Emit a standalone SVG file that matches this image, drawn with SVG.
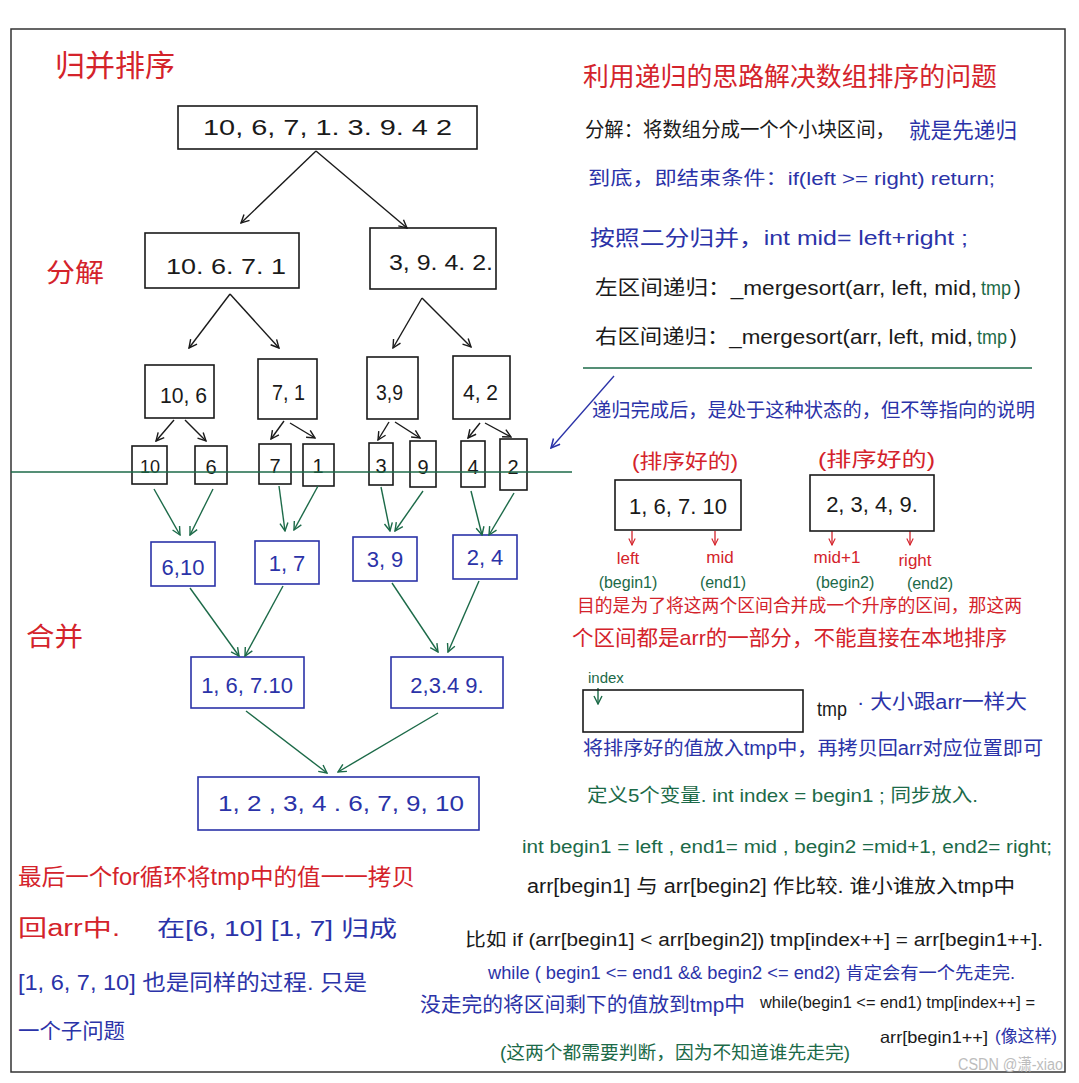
<svg xmlns="http://www.w3.org/2000/svg" width="1079" height="1083" viewBox="0 0 1079 1083">
<defs>
<style>
text{font-family:"Liberation Sans","Noto Sans CJK SC",sans-serif;}
.r{fill:#d4232b}.b{fill:#2b33a8}.g{fill:#1c6a48}.k{fill:#1a1a1a}
.num{font-size:22px}
.bx{fill:none;stroke:#1a1a1a;stroke-width:1.6}
.bb{fill:none;stroke:#2b33a8;stroke-width:1.6}
.ck{stroke:#1a1a1a;stroke-width:1.4;fill:none;marker-end:url(#ak)}
.cg{stroke:#1c6a48;stroke-width:1.4;fill:none;marker-end:url(#ag)}
.cb{stroke:#2b33a8;stroke-width:1.4;fill:none;marker-end:url(#ab)}
.cr{stroke:#d4232b;stroke-width:1.3;fill:none;marker-end:url(#ar)}
</style>
<marker id="ak" viewBox="0 0 10 10" refX="9" refY="5" markerWidth="10" markerHeight="10" markerUnits="userSpaceOnUse" orient="auto"><path d="M1,1 L9,5 L1,9" fill="none" stroke="#1a1a1a" stroke-width="1.4"/></marker>
<marker id="ag" viewBox="0 0 10 10" refX="9" refY="5" markerWidth="10" markerHeight="10" markerUnits="userSpaceOnUse" orient="auto"><path d="M1,1 L9,5 L1,9" fill="none" stroke="#1c6a48" stroke-width="1.4"/></marker>
<marker id="ab" viewBox="0 0 10 10" refX="9" refY="5" markerWidth="11" markerHeight="11" markerUnits="userSpaceOnUse" orient="auto"><path d="M1,1 L9,5 L1,9" fill="none" stroke="#2b33a8" stroke-width="1.4"/></marker>
<marker id="ar" viewBox="0 0 10 10" refX="9" refY="5" markerWidth="8" markerHeight="8" markerUnits="userSpaceOnUse" orient="auto"><path d="M1,1 L9,5 L1,9" fill="none" stroke="#d4232b" stroke-width="1.4"/></marker>
</defs>
<rect width="1079" height="1083" fill="#ffffff"/>
<rect x="11" y="29" width="1054" height="1043" fill="none" stroke="#333" stroke-width="1.5"/>

<g id="labels">
<text class="r" x="55" y="76" font-size="30" textLength="120" lengthAdjust="spacingAndGlyphs">归并排序</text>
<text class="r" x="46" y="282" font-size="26" textLength="58" lengthAdjust="spacingAndGlyphs">分解</text>
<text class="r" x="26" y="646" font-size="26" textLength="57" lengthAdjust="spacingAndGlyphs">合并</text>
</g>

<g id="n-root"><rect class="bx" x="178" y="106" width="299" height="43"/><text class="k num" x="203" y="135" textLength="249" lengthAdjust="spacingAndGlyphs">10, 6, 7, 1. 3. 9. 4   2</text></g>
<g id="n-l"><rect class="bx" x="145" y="233" width="154" height="55"/><text class="k num" x="166" y="274" textLength="120" lengthAdjust="spacingAndGlyphs">10. 6. 7. 1</text></g>
<g id="n-r"><rect class="bx" x="370" y="228" width="126" height="61"/><text class="k num" x="389" y="270" textLength="104" lengthAdjust="spacingAndGlyphs">3, 9. 4. 2.</text></g>
<g id="n-106"><rect class="bx" x="145" y="365" width="69" height="53"/><text class="k num" x="160" y="403" textLength="47" lengthAdjust="spacingAndGlyphs">10, 6</text></g>
<g id="n-71"><rect class="bx" x="258" y="359" width="59" height="60"/><text class="k num" x="272" y="400" textLength="33" lengthAdjust="spacingAndGlyphs">7, 1</text></g>
<g id="n-39"><rect class="bx" x="367" y="357" width="51" height="62"/><text class="k num" x="376" y="400" textLength="27" lengthAdjust="spacingAndGlyphs">3,9</text></g>
<g id="n-42"><rect class="bx" x="453" y="356" width="57" height="63"/><text class="k num" x="463" y="400" textLength="35" lengthAdjust="spacingAndGlyphs">4, 2</text></g>
<g id="n-10"><rect class="bx" x="132" y="446" width="35" height="38"/><text class="k" font-size="18" x="150" y="473" text-anchor="middle">10</text></g>
<g id="n-6"><rect class="bx" x="195" y="446" width="32" height="38"/><text class="k" font-size="20" x="211" y="474" text-anchor="middle">6</text></g>
<g id="n-7"><rect class="bx" x="259" y="444" width="32" height="40"/><text class="k" font-size="20" x="275" y="473" text-anchor="middle">7</text></g>
<g id="n-1"><rect class="bx" x="303" y="444" width="31" height="42"/><text class="k" font-size="20" x="318" y="473" text-anchor="middle">1</text></g>
<g id="n-3"><rect class="bx" x="369" y="443" width="24" height="42"/><text class="k" font-size="20" x="381" y="473" text-anchor="middle">3</text></g>
<g id="n-9"><rect class="bx" x="410" y="441" width="26" height="46"/><text class="k" font-size="20" x="423" y="474" text-anchor="middle">9</text></g>
<g id="n-4"><rect class="bx" x="461" y="441" width="24" height="46"/><text class="k" font-size="20" x="473" y="474" text-anchor="middle">4</text></g>
<g id="n-2"><rect class="bx" x="500" y="439" width="27" height="51"/><text class="k" font-size="20" x="513" y="474" text-anchor="middle">2</text></g>
<g id="m-610"><rect class="bb" x="151" y="542" width="64" height="44"/><text class="b num" x="183" y="575" text-anchor="middle">6,10</text></g>
<g id="m-17"><rect class="bb" x="255" y="541" width="64" height="43"/><text class="b num" x="287" y="571" text-anchor="middle">1, 7</text></g>
<g id="m-39"><rect class="bb" x="353" y="537" width="64" height="44"/><text class="b num" x="385" y="567" text-anchor="middle">3, 9</text></g>
<g id="m-24"><rect class="bb" x="453" y="535" width="64" height="44"/><text class="b num" x="485" y="565" text-anchor="middle">2, 4</text></g>
<g id="m-1to10"><rect class="bb" x="191" y="657" width="113" height="51"/><text class="b num" x="247" y="693" text-anchor="middle">1, 6, 7.10</text></g>
<g id="m-2to9"><rect class="bb" x="391" y="657" width="112" height="51"/><text class="b num" x="447" y="693" text-anchor="middle">2,3.4 9.</text></g>
<g id="m-all"><rect class="bb" x="198" y="777" width="281" height="53"/><text class="b num" x="218" y="811" textLength="246" lengthAdjust="spacingAndGlyphs">1, 2 , 3, 4 . 6, 7, 9, 10</text></g>

<g id="connectors">
<line class="ck" x1="316" y1="151" x2="241" y2="223"/>
<line class="ck" x1="316" y1="151" x2="407" y2="228"/>
<line class="ck" x1="230" y1="294" x2="189" y2="348"/>
<line class="ck" x1="230" y1="294" x2="279" y2="348"/>
<line class="ck" x1="422" y1="298" x2="393" y2="348"/>
<line class="ck" x1="422" y1="298" x2="471" y2="347"/>
<line class="ck" x1="174" y1="420" x2="156" y2="441"/>
<line class="ck" x1="185" y1="420" x2="206" y2="441"/>
<line class="ck" x1="284" y1="421" x2="271" y2="439"/>
<line class="ck" x1="290" y1="423" x2="315" y2="438"/>
<line class="ck" x1="389" y1="422" x2="378" y2="440"/>
<line class="ck" x1="395" y1="422" x2="420" y2="438"/>
<line class="ck" x1="480" y1="423" x2="468" y2="438"/>
<line class="ck" x1="485" y1="423" x2="511" y2="437"/>
<line x1="11" y1="472" x2="572" y2="472" stroke="#1c6a48" stroke-width="1.6"/>
<line x1="583" y1="368" x2="1032" y2="368" stroke="#1c6a48" stroke-width="1.6"/>
<line class="cg" x1="154" y1="489" x2="180" y2="535"/>
<line class="cg" x1="213" y1="489" x2="190" y2="535"/>
<line class="cg" x1="279" y1="486" x2="285" y2="531"/>
<line class="cg" x1="318" y1="486" x2="294" y2="530"/>
<line class="cg" x1="381" y1="487" x2="390" y2="531"/>
<line class="cg" x1="423" y1="491" x2="395" y2="531"/>
<line class="cg" x1="471" y1="491" x2="482" y2="535"/>
<line class="cg" x1="514" y1="493" x2="489" y2="535"/>
<line class="cg" x1="190" y1="588" x2="239" y2="656"/>
<line class="cg" x1="283" y1="586" x2="245" y2="656"/>
<line class="cg" x1="392" y1="583" x2="438" y2="652"/>
<line class="cg" x1="479" y1="581" x2="448" y2="652"/>
<line class="cg" x1="246" y1="711" x2="327" y2="773"/>
<line class="cg" x1="438" y1="713" x2="338" y2="772"/>
<line class="cb" x1="614" y1="376" x2="551" y2="448"/>
<line class="cr" x1="632" y1="531" x2="632" y2="545"/>
<line class="cr" x1="715" y1="531" x2="715" y2="545"/>
<line class="cr" x1="832" y1="531" x2="832" y2="545"/>
<line class="cr" x1="910" y1="531" x2="910" y2="545"/>
<line class="cg" x1="598" y1="688" x2="598" y2="704"/>
</g>

<g id="notes">
<text class="r" font-size="26" x="583" y="86" textLength="414" lengthAdjust="spacingAndGlyphs">利用递归的思路解决数组排序的问题</text>
<text class="k" font-size="20" x="585" y="137" textLength="310" lengthAdjust="spacingAndGlyphs">分解：将数组分成一个个小块区间，</text>
<text class="b" font-size="22" x="909" y="138" textLength="108" lengthAdjust="spacingAndGlyphs">就是先递归</text>
<text class="b" font-size="19" x="588" y="185" textLength="407" lengthAdjust="spacingAndGlyphs">到底，即结束条件：if(left &gt;= right) return;</text>
<text class="b" font-size="21" x="590" y="245" textLength="378" lengthAdjust="spacingAndGlyphs">按照二分归并，int mid= left+right ;</text>
<text class="k" font-size="20" x="595" y="295" textLength="382" lengthAdjust="spacingAndGlyphs">左区间递归：_mergesort(arr, left, mid,</text>
<text class="g" font-size="20" x="981" y="295" textLength="30" lengthAdjust="spacingAndGlyphs">tmp</text>
<text class="k" font-size="20" x="1014" y="295">)</text>
<text class="k" font-size="20" x="595" y="344" textLength="378" lengthAdjust="spacingAndGlyphs">右区间递归：_mergesort(arr, left, mid,</text>
<text class="g" font-size="20" x="977" y="344" textLength="30" lengthAdjust="spacingAndGlyphs">tmp</text>
<text class="k" font-size="20" x="1010" y="344">)</text>
<text class="b" font-size="19.5" x="592" y="417" textLength="443" lengthAdjust="spacingAndGlyphs">递归完成后，是处于这种状态的，但不等指向的说明</text>
<text class="r" font-size="20" x="632" y="469" textLength="106" lengthAdjust="spacingAndGlyphs">(排序好的)</text>
<text class="r" font-size="20" x="818" y="467" textLength="117" lengthAdjust="spacingAndGlyphs">(排序好的)</text>
</g>

<g id="s-left"><rect class="bx" x="615" y="480" width="126" height="50"/><text class="k num" x="678" y="514" text-anchor="middle">1, 6, 7. 10</text></g>
<g id="s-right"><rect class="bx" x="810" y="475" width="124" height="56"/><text class="k num" x="872" y="512" text-anchor="middle">2, 3, 4, 9.</text></g>

<g id="pointers">
<text class="r" font-size="17" x="628" y="564" text-anchor="middle">left</text>
<text class="r" font-size="17" x="720" y="563" text-anchor="middle">mid</text>
<text class="r" font-size="17" x="837" y="563" text-anchor="middle">mid+1</text>
<text class="r" font-size="17" x="915" y="566" text-anchor="middle">right</text>
<text class="g" font-size="16" x="628" y="588" text-anchor="middle">(begin1)</text>
<text class="g" font-size="16" x="723" y="588" text-anchor="middle">(end1)</text>
<text class="g" font-size="16" x="845" y="588" text-anchor="middle">(begin2)</text>
<text class="g" font-size="16" x="930" y="589" text-anchor="middle">(end2)</text>
</g>

<g id="notes2">
<text class="r" font-size="18" x="577" y="612" textLength="445" lengthAdjust="spacingAndGlyphs">目的是为了将这两个区间合并成一个升序的区间，那这两</text>
<text class="r" font-size="21" x="572" y="645" textLength="435" lengthAdjust="spacingAndGlyphs">个区间都是arr的一部分，不能直接在本地排序</text>
<text class="g" font-size="15" x="588" y="683">index</text>
</g>
<g id="tmp-box"><rect class="bx" x="583" y="690" width="220" height="42"/></g>
<g id="notes3">
<text class="k" font-size="20" x="817" y="716" textLength="30" lengthAdjust="spacingAndGlyphs">tmp</text>
<text class="b" font-size="20" x="857" y="709" textLength="170" lengthAdjust="spacingAndGlyphs">· 大小跟arr一样大</text>
<text class="b" font-size="19.5" x="583" y="755" textLength="460" lengthAdjust="spacingAndGlyphs">将排序好的值放入tmp中，再拷贝回arr对应位置即可</text>
<text class="g" font-size="19" x="587" y="802" textLength="391" lengthAdjust="spacingAndGlyphs">定义5个变量. int index = begin1 ; 同步放入.</text>
<text class="g" font-size="18" x="522" y="853" textLength="530" lengthAdjust="spacingAndGlyphs">int begin1 = left , end1= mid , begin2 =mid+1, end2= right;</text>
<text class="k" font-size="19.5" x="527" y="893" textLength="488" lengthAdjust="spacingAndGlyphs">arr[begin1] 与 arr[begin2] 作比较. 谁小谁放入tmp中</text>
<text class="k" font-size="18" x="465" y="946" textLength="578" lengthAdjust="spacingAndGlyphs">比如 if (arr[begin1] &lt; arr[begin2]) tmp[index++] = arr[begin1++].</text>
<text class="b" font-size="17.5" x="488" y="979" textLength="527" lengthAdjust="spacingAndGlyphs">while ( begin1 &lt;= end1 &amp;&amp; begin2 &lt;= end2) 肯定会有一个先走完.</text>
<text class="b" font-size="20.5" x="420" y="1012" textLength="325" lengthAdjust="spacingAndGlyphs">没走完的将区间剩下的值放到tmp中</text>
<text class="k" font-size="16" x="760" y="1008" textLength="275" lengthAdjust="spacingAndGlyphs">while(begin1 &lt;= end1) tmp[index++]  =</text>
<text class="k" font-size="16.5" x="880" y="1043" textLength="108" lengthAdjust="spacingAndGlyphs">arr[begin1++]</text>
<text class="b" font-size="17" x="995" y="1042" textLength="62" lengthAdjust="spacingAndGlyphs">(像这样)</text>
<text class="g" font-size="18.5" x="500" y="1059" textLength="350" lengthAdjust="spacingAndGlyphs">(这两个都需要判断，因为不知道谁先走完)</text>
<text x="958" y="1070" font-size="16" fill="#bdbdbd" textLength="105" lengthAdjust="spacingAndGlyphs">CSDN @潇-xiao</text>
</g>

<g id="notes4">
<text class="r" font-size="23" x="18" y="885" textLength="397" lengthAdjust="spacingAndGlyphs">最后一个for循环将tmp中的值一一拷贝</text>
<text class="r" font-size="23" x="18" y="936" textLength="102" lengthAdjust="spacingAndGlyphs">回arr中.</text>
<text class="b" font-size="22" x="157" y="936" textLength="240" lengthAdjust="spacingAndGlyphs">在[6, 10]  [1, 7] 归成</text>
<text class="b" font-size="22" x="18" y="990" textLength="349" lengthAdjust="spacingAndGlyphs">[1, 6, 7, 10] 也是同样的过程. 只是</text>
<text class="b" font-size="21" x="18" y="1038" textLength="107" lengthAdjust="spacingAndGlyphs">一个子问题</text>
</g>
</svg>
